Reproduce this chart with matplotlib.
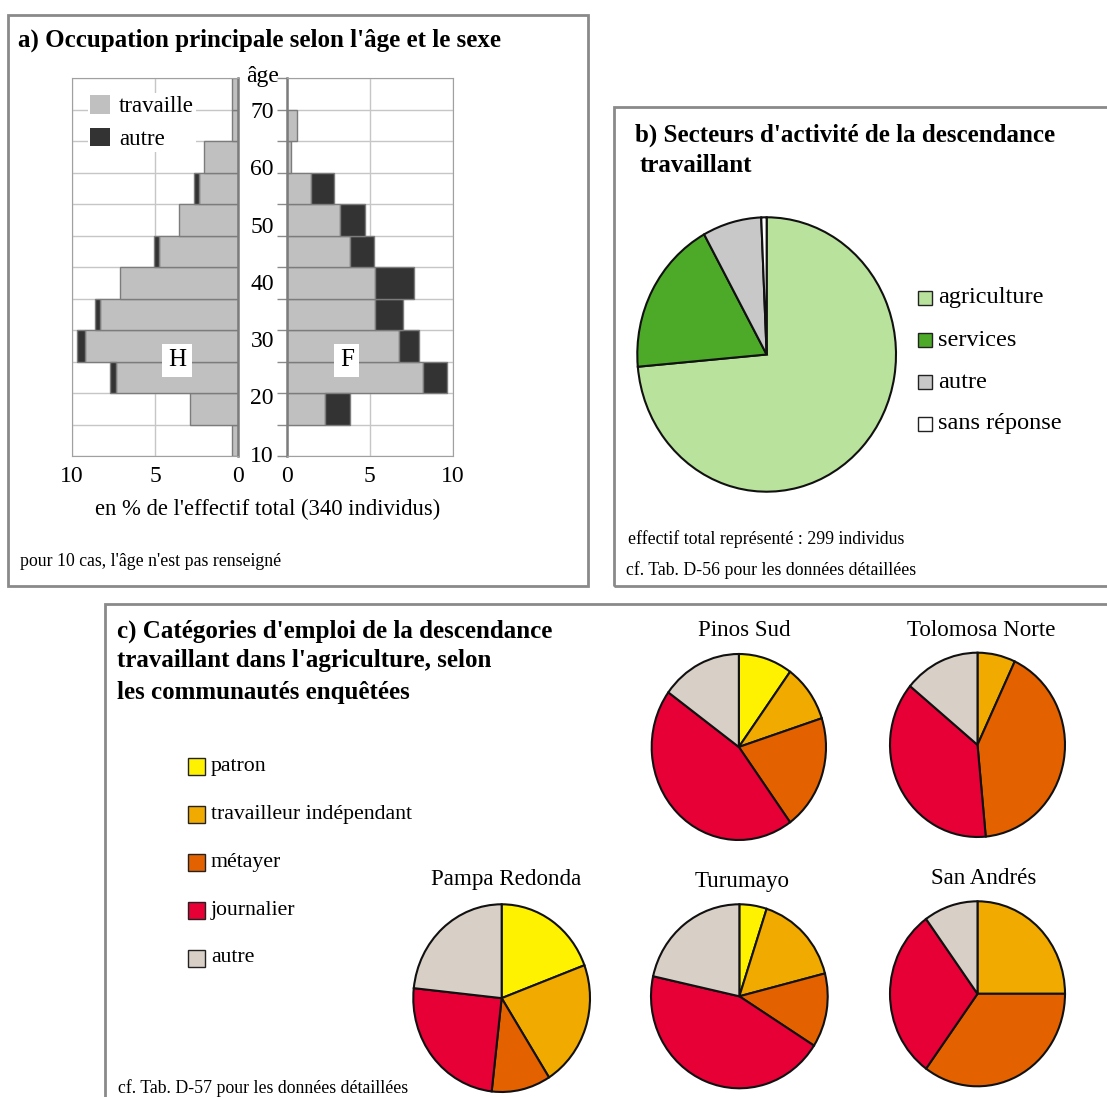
import numpy as np
import matplotlib.pyplot as plt
from matplotlib.patches import Rectangle

plt.rcParams['font.family'] = ['Liberation Serif', 'DejaVu Serif']

# a) pyramide : % de l'effectif par classe d'âge (de bas en haut)
h_travaille = [0.35, 2.9, 7.35, 9.2, 8.3, 7.1, 4.75, 3.55, 2.35, 2.05, 0.35, 0.35]
h_autre = [0, 0, 0.35, 0.5, 0.3, 0, 0.3, 0, 0.3, 0, 0, 0]
f_travaille = [0, 2.3, 8.2, 6.75, 5.3, 5.3, 3.8, 3.2, 1.45, 0.25, 0.6, 0]
f_autre = [0, 1.5, 1.45, 1.2, 1.7, 2.35, 1.45, 1.5, 1.4, 0, 0, 0]
ages = [10, 20, 30, 40, 50, 60, 70]

# b) secteurs d'activité (individus)
secteurs = ['agriculture', 'services', 'autre', 'sans réponse']
effectifs = [220, 55, 22, 2]
couleurs_b = ['#b9e29c', '#4caa28', '#c8c8c8', '#ffffff']

# c) catégories d'emploi par communauté (%)
categories = ['patron', 'travailleur indépendant', 'métayer', 'journalier', 'autre']
couleurs_c = ['#fff200', '#f0aa00', '#e46100', '#e60036', '#d8d0c6']
communautes = ['Pinos Sud', 'Tolomosa Norte', 'Pampa Redonda', 'Turumayo', 'San Andrés']
pinos_sud = [10, 10, 20, 45, 15]
tolomosa_norte = [0, 7, 41.5, 37.5, 14]
pampa_redonda = [19.3, 21.7, 10.8, 24.9, 23.3]
turumayo = [5, 16, 13, 44.5, 21.5]
san_andres = [0, 25, 35, 30, 10]

W, H = 1107, 1097
fig = plt.figure(figsize=(W / 100, H / 100), dpi=100)

TITRE = 18
PETIT = 12.8


def box(x0, y0, x1, y1):
    return [x0 / W, 1 - y1 / H, (x1 - x0) / W, (y1 - y0) / H]


def texte(x, y, s, **kw):
    fig.text(x / W, 1 - y / H, s, **kw)


def cadre(x0, y0, x1, y1):
    fig.add_artist(Rectangle((x0 / W, 1 - y1 / H), (x1 - x0) / W, (y1 - y0) / H,
                             transform=fig.transFigure, fill=False,
                             ec='#8a8a8a', lw=2))


def cle(x, y, taille, couleur, label, fs):
    fig.add_artist(Rectangle((x / W, 1 - (y + taille / 2) / H), taille / W, taille / H,
                             transform=fig.transFigure, fc=couleur, ec='#222222', lw=1))
    texte(x + taille + 6, y, label, fontsize=fs, va='center')


cadre(8, 15, 588, 586)
cadre(614, 107, 1120, 586)
cadre(105, 604, 1120, 1110)

# ---- a) pyramide des âges
gris, fonce, bord = '#c0c0c0', '#333333', '#7c7c7c'
y = np.arange(12) + 0.5
axH = fig.add_axes(box(71.7, 78.3, 238.3, 456))
axF = fig.add_axes(box(286.7, 78.3, 452.7, 456))

for ax, trav, autre in [(axH, h_travaille, h_autre), (axF, f_travaille, f_autre)]:
    trav = np.array(trav)
    autre = np.array(autre)
    m = trav > 0
    b1 = ax.barh(y[m], trav[m], height=1, color=gris, edgecolor=bord, lw=1)
    m = autre > 0
    b2 = ax.barh(y[m], autre[m], left=trav[m], height=1, color=fonce, edgecolor=bord, lw=1)
    ax.set_ylim(0, 12)
    ax.set_xticks([0, 5, 10])
    ax.set_yticks(range(13))
    ax.set_yticklabels([])
    ax.grid(color='#c6c6c6', lw=1)
    ax.set_axisbelow(True)
    ax.tick_params(axis='x', length=0, labelsize=17, pad=7)
    for s in ax.spines.values():
        s.set_color('#a0a0a0')

axH.set_xlim(10, 0)
axF.set_xlim(0, 10)
axH.tick_params(axis='y', length=0)
axF.tick_params(axis='y', length=7, color='#8a8a8a', width=1)
axH.spines['right'].set_color(bord)
axH.spines['right'].set_linewidth(1.8)
axF.spines['left'].set_color(bord)
axF.spines['left'].set_linewidth(1.8)

for a in ages:
    axF.text(-0.148, (a - 10) / 5.5, str(a), transform=axF.get_yaxis_transform(),
             ha='center', va='center', fontsize=17)
axF.text(-0.148, 12.05, 'âge', transform=axF.get_yaxis_transform(),
         ha='center', va='center', fontsize=17)

axH.text(0.632, 0.254, 'H', transform=axH.transAxes, ha='center', va='center',
         fontsize=18, bbox=dict(fc='white', ec='none', pad=4))
axF.text(0.363, 0.254, 'F', transform=axF.transAxes, ha='center', va='center',
         fontsize=18, bbox=dict(fc='white', ec='none', pad=4))

leg = axH.legend([b1, b2], ['travaille', 'autre'], loc='upper left',
                 bbox_to_anchor=(88 / W, 1 - 93 / H), bbox_transform=fig.transFigure,
                 fontsize=16.5, handlelength=0.85, handleheight=0.85, handletextpad=0.4,
                 labelspacing=0.45, borderpad=0.1, borderaxespad=0, fancybox=False,
                 facecolor='white', edgecolor='none', framealpha=1)
for p in leg.get_patches():
    p.set_edgecolor('none')

texte(18, 40, "a) Occupation principale selon l'âge et le sexe", fontsize=TITRE,
      fontweight='bold', va='center')
texte(268, 509, "en % de l'effectif total (340 individus)", fontsize=16.3,
      ha='center', va='center')
texte(20, 561, "pour 10 cas, l'âge n'est pas renseigné", fontsize=PETIT, va='center')

# ---- b) secteurs d'activité
axb = fig.add_axes(box(637.3, 217.3, 896, 491.7))
axb.pie(effectifs, colors=couleurs_b, startangle=90, counterclock=False,
        wedgeprops=dict(edgecolor='#111111', linewidth=1.5, clip_on=False))
axb.set_aspect('auto')
axb.set_xlim(-1, 1)
axb.set_ylim(-1, 1)

texte(635, 135, "b) Secteurs d'activité de la descendance", fontsize=TITRE,
      fontweight='bold', va='center')
texte(640, 165, "travaillant", fontsize=TITRE, fontweight='bold', va='center')
for i, (lab, c) in enumerate(zip(secteurs, couleurs_b)):
    cle(918, 298 + 42 * i, 14, c, lab, 17.5)
texte(628, 539, "effectif total représenté : 299 individus", fontsize=PETIT, va='center')
texte(626, 570, "cf. Tab. D-56 pour les données détaillées", fontsize=PETIT, va='center')

# ---- c) catégories d'emploi dans l'agriculture
texte(117, 631, "c) Catégories d'emploi de la descendance", fontsize=TITRE,
      fontweight='bold', va='center')
texte(117, 661, "travaillant dans l'agriculture, selon", fontsize=TITRE,
      fontweight='bold', va='center')
texte(117, 692, "les communautés enquêtées", fontsize=TITRE, fontweight='bold', va='center')
for i, (lab, c) in enumerate(zip(categories, couleurs_c)):
    cle(188, 766 + 48 * i, 17, c, lab, 15.7)
texte(118, 1088, "cf. Tab. D-57 pour les données détaillées", fontsize=PETIT, va='center')

pies = [
    (pinos_sud, (651.7, 654, 826, 840), (744, 631)),
    (tolomosa_norte, (890, 652.7, 1065, 837), (981, 630)),
    (pampa_redonda, (413.3, 904.3, 590, 1092), (506, 880)),
    (turumayo, (651, 904.3, 827.7, 1088.3), (742, 881)),
    (san_andres, (890, 901.3, 1065, 1086.3), (984, 878)),
]
for nom, (vals, bb, pos) in zip(communautes, pies):
    ax = fig.add_axes(box(*bb))
    ax.pie(vals, colors=couleurs_c, startangle=90, counterclock=False,
           wedgeprops=dict(edgecolor='#111111', linewidth=1.5, clip_on=False))
    ax.set_aspect('auto')
    ax.set_xlim(-1, 1)
    ax.set_ylim(-1, 1)
    texte(pos[0], pos[1], nom, fontsize=16.6, ha='center', va='center')

fig.savefig('out.png', dpi=100, facecolor='white')
